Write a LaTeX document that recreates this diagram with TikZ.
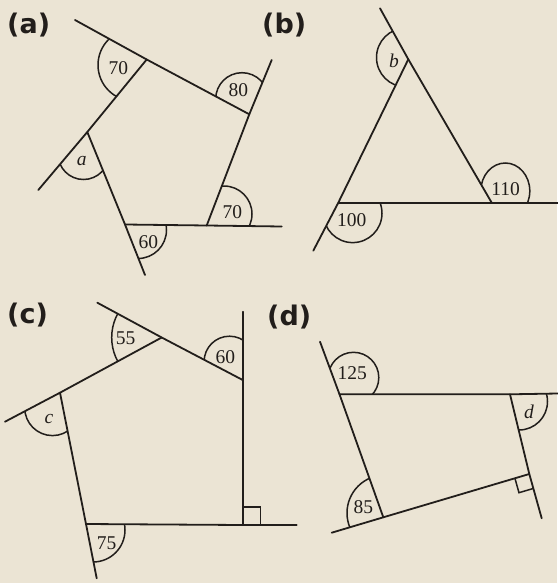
\documentclass[tikz,border=0pt]{standalone}
\usepackage{fontspec}
\setmainfont{Liberation Serif}
\newfontfamily\panelfont{DejaVu Sans}
\usetikzlibrary{calc}
\definecolor{paper}{HTML}{EBE4D4}
\definecolor{ink}{HTML}{221E1B}
\newcommand\angmark[6]{%
  \begin{scope}
    \clip (#1) -- ($(#1)!90pt!(#2)$) -- ($(#1)!90pt!(#2)+(#1)!90pt!(#3)-(#1)$) -- ($(#1)!90pt!(#3)$) -- cycle;
    \draw[arcline] #4 ellipse[x radius=#5pt, y radius=#6pt];
  \end{scope}}
\newcommand\rtmark[4]{%
  \draw[arcline] ($(#1)!#4pt!(#2)$) -- ($(#1)!#4pt!(#2)+(#1)!#4pt!(#3)-(#1)$) -- ($(#1)!#4pt!(#3)$);}
\begin{document}
\begin{tikzpicture}[x=1pt,y=-1pt,
  line/.style={draw=ink, line width=1.8pt, line cap=round, line join=round},
  arcline/.style={draw=ink, line width=1.5pt},
  num/.style={font=\fontsize{19.5}{19.5}\selectfont, text=ink, inner sep=0pt},
  var/.style={font=\fontsize{19.5}{19.5}\selectfont\itshape, text=ink, inner sep=0pt},
  panel/.style={font=\panelfont\bfseries\fontsize{27}{27}\selectfont, text=ink, inner sep=0pt, anchor=west}]
\fill[paper] (0,0) rectangle (557,583);
\useasboundingbox (0,0) rectangle (557,583);

% ---------- (a) ----------
\node[panel] (pa) at (7,25) {(a)};
\coordinate (aT) at (75,20);
\coordinate (aV1) at (146.7,59.5);
\coordinate (aV2) at (249.3,114.3);
\coordinate (aR) at (271.7,60);
\coordinate (aV3) at (206.7,225.5);
\coordinate (aB) at (281.7,226.5);
\coordinate (aV4) at (125,224.5);
\coordinate (aL4) at (145,275);
\coordinate (aV5) at (87.3,132);
\coordinate (aL5) at (38.3,190);
\draw[line] (aT) -- (aV1) -- (aV2);
\draw[line] (aR) -- (aV2) -- (aV3);
\draw[line] (aV4) -- (aV3) -- (aB);
\draw[line] (aV5) -- (aV4) -- (aL4);
\draw[line] (aL5) -- (aV5) -- (aV1);
\angmark{aV1}{aT}{aV5}{(134,65)}{36}{36}
\angmark{aV2}{aV1}{aR}{(242,99)}{26.3}{26.3}
\angmark{aV3}{aB}{aV2}{(224,214)}{28}{28}
\angmark{aV4}{aV3}{aL4}{(138,230)}{28.5}{28.5}
\angmark{aV5}{aL5}{aV4}{(83.5,154)}{25.5}{25.5}
\node[num] (la1) at (118.3,67.7) {70};
\node[num] (la2) at (238.3,90) {80};
\node[var] (la5) at (81.7,160.7) {a};
\node[num] (la3) at (232.3,212.3) {70};
\node[num] (la4) at (148.3,242) {60};

% ---------- (b) ----------
\node[panel] (pb) at (262,25) {(b)};
\coordinate (bT) at (380,8.3);
\coordinate (bV1) at (408.3,59.3);
\coordinate (bV2) at (338.3,202.7);
\coordinate (bV3) at (491.7,202.7);
\coordinate (bL) at (313.3,250.7);
\coordinate (bR) at (558,202.7);
\draw[line] (bT) -- (bV1) -- (bV3);
\draw[line] (bV1) -- (bV2) -- (bL);
\draw[line] (bV2) -- (bV3) -- (bR);
\angmark{bV1}{bT}{bV2}{(406,57.5)}{29.5}{29.5}
\angmark{bV3}{bV1}{bR}{(505.3,191)}{24.5}{28}
\angmark{bV2}{bV3}{bL}{(352.7,213.3)}{29.3}{29.3}
\node[var] (lb1) at (394,60.7) {b};
\node[num] (lb2) at (505.7,189.3) {110};
\node[num] (lb3) at (351.7,220.3) {100};

% ---------- (c) ----------
\node[panel] (pc) at (7,315) {(c)};
\coordinate (cT) at (97.3,302.7);
\coordinate (cV1) at (161.7,337.5);
\coordinate (cV2) at (242.7,380);
\coordinate (cVt) at (242.7,311.7);
\coordinate (cV3) at (242.7,525);
\coordinate (cB) at (296.7,525);
\coordinate (cV4) at (86,524);
\coordinate (cL4) at (96.7,578.3);
\coordinate (cV5) at (60,392.7);
\coordinate (cL5) at (5,421.7);
\draw[line] (cT) -- (cV1) -- (cV2);
\draw[line] (cVt) -- (cV2) -- (cV3);
\draw[line] (cV4) -- (cV3) -- (cB);
\draw[line] (cV5) -- (cV4) -- (cL4);
\draw[line] (cL5) -- (cV5) -- (cV1);
\angmark{cV1}{cT}{cV5}{(161.7,337.5)}{50}{50}
\angmark{cV2}{cV1}{cVt}{(229.5,361.6)}{25.4}{25.4}
\angmark{cV5}{cL5}{cV4}{(52.5,407.8)}{27.8}{27.8}
\angmark{cV4}{cV3}{cL4}{(93,530)}{32}{32}
\rtmark{cV3}{cVt}{cB}{18}
\node[num] (lc1) at (125.7,338.3) {55};
\node[num] (lc2) at (225.3,356.7) {60};
\node[var] (lc3) at (49,419) {c};
\node[num] (lc4) at (106.7,543.3) {75};

% ---------- (d) ----------
\node[panel] (pd) at (267,317.5) {(d)};
\coordinate (dT) at (320,341.7);
\coordinate (dV1) at (339.5,394.3);
\coordinate (dV2) at (510,394.3);
\coordinate (dR) at (558,393.5);
\coordinate (dV3) at (529.3,474);
\coordinate (dRb) at (541.7,518.3);
\coordinate (dV4) at (383.3,517.3);
\coordinate (dL) at (331.7,532.7);
\draw[line] (dT) -- (dV1) -- (dV4);
\draw[line] (dV1) -- (dV2) -- (dR);
\draw[line] (dV2) -- (dV3) -- (dRb);
\draw[line] (dL) -- (dV4) -- (dV3);
\angmark{dV1}{dT}{dV2}{(353.5,377.6)}{25.3}{25.3}
\angmark{dV2}{dR}{dV3}{(519,401.5)}{28.5}{28.5}
\angmark{dV4}{dL}{dV1}{(385,513)}{38}{38}
\rtmark{dV3}{dV4}{dRb}{15}
\node[num] (ld1) at (352.3,373.3) {125};
\node[var] (ld2) at (529,411.7) {d};
\node[num] (ld3) at (363.3,506.7) {85};
\end{tikzpicture}
\end{document}
